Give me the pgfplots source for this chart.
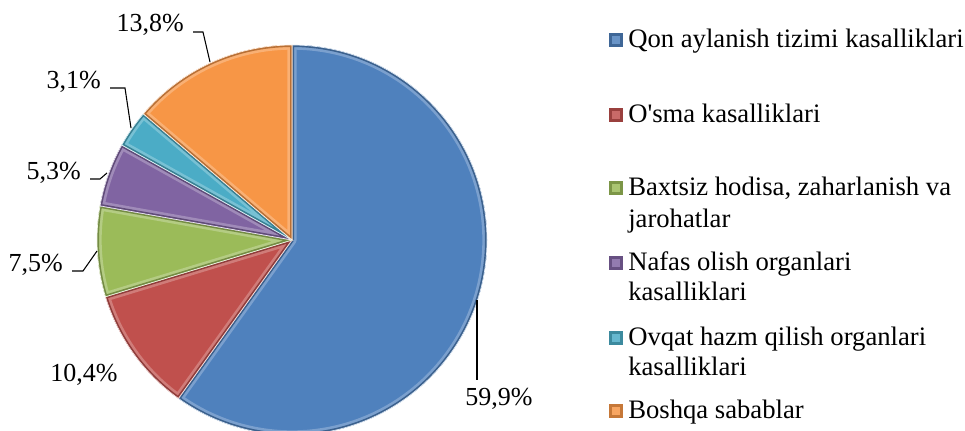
\documentclass[border=0pt]{standalone}
\usepackage{pgfplots}
\pgfplotsset{compat=1.18}
\usepackage{pgfplotstable}
\usepackage{fontspec}
\setmainfont{Liberation Serif}[Ligatures=TeXOff]
\definecolor{cBlue}{HTML}{4F81BD}
\definecolor{cRed}{HTML}{C0504D}
\definecolor{cGreen}{HTML}{9BBB59}
\definecolor{cPurple}{HTML}{8064A2}
\definecolor{cTeal}{HTML}{4BACC6}
\definecolor{cOrange}{HTML}{F79646}
\pgfplotstableread{
pct color
59.9 cBlue
10.4 cRed
7.5 cGreen
5.3 cPurple
3.1 cTeal
13.8 cOrange
}\piedata
\newcommand\legmark[2]{%
  \fill[#2!80!black] (axis cs:609,#1) rectangle (axis cs:623,#1+14);
  \fill[#2!85!white] (axis cs:612,#1+3) rectangle (axis cs:620,#1+11);}
\begin{document}
\begin{tikzpicture}
\path[use as bounding box] (0,0) rectangle (723.75pt,322.5pt);
\begin{axis}[hide axis, scale only axis, width=723.75pt, height=322.5pt,
  xmin=0, xmax=965, ymin=0, ymax=430, at={(0,0)}, anchor=south west, clip=false]
\def\cum{0}
\pgfplotsforeachungrouped \i in {0,...,5}{%
  \pgfplotstablegetelem{\i}{pct}\of\piedata \let\p\pgfplotsretval
  \pgfplotstablegetelem{\i}{color}\of\piedata \let\c\pgfplotsretval
  \pgfmathsetmacro\sa{90-3.6*\cum}%
  \pgfmathsetmacro\ea{90-3.6*(\cum+\p)}%
  \pgfmathsetmacro\cum{\cum+\p}%
  \edef\tmp{%
    \noexpand\fill[\c] (axis cs:292,190) -- ++(\sa:146.25pt) arc[start angle=\sa, end angle=\ea, radius=146.25pt] -- cycle;
    \noexpand\begin{scope}
    \noexpand\clip (axis cs:292,190) -- ++(\sa:146.25pt) arc[start angle=\sa, end angle=\ea, radius=146.25pt] -- cycle;
    \noexpand\draw[line width=7pt, \c!75!white, line join=round] (axis cs:292,190) -- ++(\sa:146.25pt) arc[start angle=\sa, end angle=\ea, radius=146.25pt] -- cycle;
    \noexpand\draw[line width=3pt, \c!75!black, line join=round] (axis cs:292,190) -- ++(\sa:146.25pt) arc[start angle=\sa, end angle=\ea, radius=146.25pt] -- cycle;
    \noexpand\end{scope}
    \noexpand\draw[white!85!\c, line width=0.5pt] (axis cs:292,190) -- ++(\sa:146.25pt) arc[start angle=\sa, end angle=\ea, radius=146.25pt] -- cycle;
  }%
  \tmp
}
% percentage labels
\begin{scope}[every node/.style={font=\fontsize{19.5}{22}\selectfont, inner sep=0pt}]
\node[anchor=east] at (axis cs:184,405) {13,8\%};
\node[anchor=east] at (axis cs:101,348) {3,1\%};
\node[anchor=east] at (axis cs:81,257) {5,3\%};
\node[anchor=east] at (axis cs:63,165) {7,5\%};
\node at (axis cs:84,55) {10,4\%};
\node[anchor=west] at (axis cs:465,31) {59,9\%};
\end{scope}
\draw[black, line width=0.8pt] (axis cs:193,398) -- (axis cs:203,398) -- (axis cs:210,368);
\draw[black, line width=0.8pt] (axis cs:110,342) -- (axis cs:125,342) -- (axis cs:131,302);
\draw[black, line width=0.8pt] (axis cs:90,251) -- (axis cs:100,251) -- (axis cs:107,257);
\draw[black, line width=0.8pt] (axis cs:72,159) -- (axis cs:83,159) -- (axis cs:97,179);
\draw[black, line width=0.8pt] (axis cs:477,130) -- (axis cs:477,50);
% legend
\begin{scope}[every node/.style={font=\fontsize{20}{24}\selectfont, inner sep=0pt, anchor=base west}]
\node at (axis cs:628,383) {Qon aylanish tizimi kasalliklari};
\node at (axis cs:628,308) {O'sma kasalliklari};
\node at (axis cs:628,235) {Baxtsiz hodisa, zaharlanish va};
\node at (axis cs:628,203) {jarohatlar};
\node at (axis cs:628,160) {Nafas olish organlari};
\node at (axis cs:628,130) {kasalliklari};
\node at (axis cs:628,85) {Ovqat hazm qilish organlari};
\node at (axis cs:628,55) {kasalliklari};
\node at (axis cs:628,12) {Boshqa sabablar};
\end{scope}
\legmark{383}{cBlue}
\legmark{308}{cRed}
\legmark{235}{cGreen}
\legmark{160}{cPurple}
\legmark{85}{cTeal}
\legmark{12}{cOrange}
\end{axis}
\end{tikzpicture}
\end{document}
